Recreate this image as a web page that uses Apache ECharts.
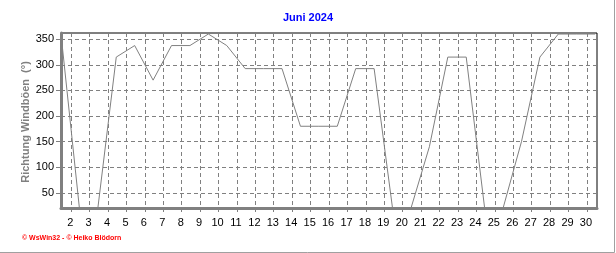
<!DOCTYPE html>
<html>
<head>
<meta charset="utf-8">
<script src="https://cdn.jsdelivr.net/npm/echarts@6/dist/echarts.min.js"></script>
<style>
html,body{margin:0;padding:0;background:#fff;}
#chart{width:616px;height:253px;}
</style>
</head>
<body>
<div id="chart"></div>
<script>
// Data: one point per day (wind gust direction, degrees)
var days = [1,2,3,4,5,6,7,8,9,10,11,12,13,14,15,16,17,18,19,20,21,22,23,24,25,26,27,28,29,30];
var directions = [360,20,20,315,337.5,270,337.5,337.5,360,337.5,292.5,292.5,292.5,180,180,180,292.5,292.5,20,20,140,315,315,20,20,150,315,360,360,360];
var xTickLabels = [2,3,4,5,6,7,8,9,10,11,12,13,14,15,16,17,18,19,20,21,22,23,24,25,26,27,28,29,30];
var yTickValues = [50,100,150,200,250,300,350];
var titleText = 'Juni 2024';
var yAxisTitle = 'Richtung Windböen  (°)';
var footerText = '© WsWin32 - © Heiko Blödorn';

var chart = echarts.init(document.getElementById('chart'), null, {renderer:'canvas'});
var FONT = 'Liberation Sans, Arial, sans-serif';
var GRAY = '#808080';

var labelPos = xTickLabels.map(function(k){ return k - 0.5; });
var tickPos = xTickLabels.map(function(k){ return k - 0.45; });
var minorPos = [];
for (var i = 0; i < xTickLabels.length + 1; i++) {
  for (var q = 1; q < 4; q++) {
    var v = xTickLabels[0] - 1.45 + i + q * 0.25;
    if (v > 1 && v < 30.1) minorPos.push(v);
  }
}

var option = {
  animation: false,
  backgroundColor: '#ffffff',
  title: {
    text: titleText,
    left: 'center',
    top: 12,
    padding: 0,
    textStyle: {color: '#0000ff', fontFamily: FONT, fontSize: 11, fontWeight: 'bold'}
  },
  grid: {
    left: 61, right: 19, top: 33, bottom: 45,
    show: true, borderColor: '#000000', borderWidth: 1, backgroundColor: 'transparent'
  },
  xAxis: [{
    type: 'value', min: 1, max: 30.1,
    axisLine: {show: true, onZero: false, lineStyle: {color: GRAY, width: 3}},
    axisTick: {show: true, customValues: tickPos, length: 4, inside: false, lineStyle: {color: GRAY, width: 1}},
    axisLabel: {show: true, customValues: labelPos, margin: 9, color: '#000', fontFamily: FONT, fontSize: 11,
      formatter: function(v){ return String(Math.round(v + 0.5)); }},
    splitLine: {show: true, lineStyle: {color: GRAY, type: [4,3], width: 1}}
  }, {
    type: 'value', min: 1, max: 30.1, position: 'bottom', offset: 0,
    axisLine: {show: false, onZero: false},
    axisTick: {show: true, customValues: minorPos, length: 2, lineStyle: {color: GRAY, width: 1}},
    axisLabel: {show: false},
    splitLine: {show: false}
  }],
  yAxis: {
    type: 'value', min: 20.5, max: 362,
    axisLine: {show: true, onZero: false, lineStyle: {color: GRAY, width: 3}},
    axisTick: {show: true, customValues: yTickValues, length: 5, lineStyle: {color: GRAY, width: 1}},
    axisLabel: {show: true, customValues: yTickValues, margin: 7, color: '#000', fontFamily: FONT, fontSize: 11},
    splitLine: {show: true, lineStyle: {color: GRAY, type: [4,3], width: 1}}
  },
  series: [{
    type: 'line',
    xAxisIndex: 0,
    data: days.map(function(d, i){ return [d, directions[i]]; }),
    showSymbol: false,
    clip: true,
    lineStyle: {color: GRAY, width: 1},
    z: 5
  }],
  graphic: [{
    type: 'text',
    x: 26, y: 122,
    rotation: Math.PI / 2,
    style: {text: yAxisTitle, fill: GRAY, font: 'bold 11px ' + FONT, align: 'center', verticalAlign: 'middle'}
  }, {
    type: 'text',
    x: 22, y: 238,
    style: {text: footerText, fill: '#ff0000', font: 'bold 7px ' + FONT, align: 'left', verticalAlign: 'middle'}
  }, {
    type: 'polyline',
    shape: {points: [[614.5, 0], [614.5, 252.5], [0, 252.5]]},
    style: {stroke: '#a0a0a0', lineWidth: 1, fill: null}
  }]
};
chart.setOption(option);
</script>
</body>
</html>
